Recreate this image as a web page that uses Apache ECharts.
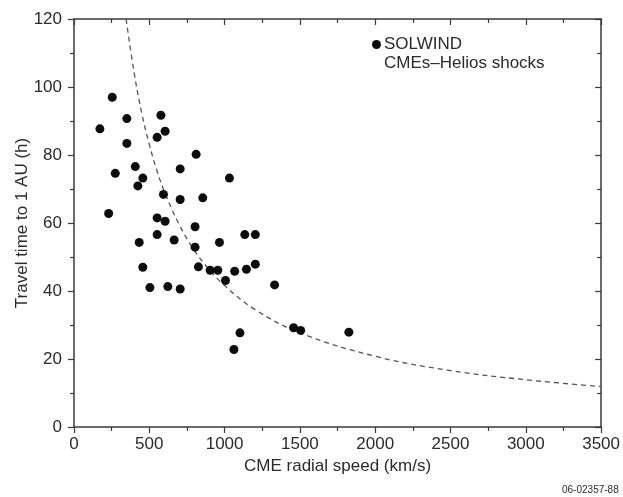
<!DOCTYPE html>
<html><head><meta charset="utf-8">
<script src="https://cdn.jsdelivr.net/npm/echarts@6/dist/echarts.min.js"></script>
<style>html,body{margin:0;padding:0;background:#fff}#c{width:623px;height:497px}</style>
</head><body><div id="c"></div>
<script>
// Observed CMEs (speed km/s, travel time h)
const speeds = [254,172,351,577,605,552,351,811,407,274,705,457,424,1032,594,705,855,230,552,605,804,552,1134,1204,665,433,966,804,457,826,904,955,1067,1145,1204,1006,504,623,705,1332,1102,1062,1458,1505,1825];
const times  = [97.0,87.7,90.7,91.7,87.0,85.2,83.4,80.2,76.6,74.6,75.9,73.2,70.9,73.2,68.4,66.9,67.4,62.8,61.5,60.5,58.9,56.6,56.6,56.6,55.0,54.3,54.3,52.9,47.0,47.1,46.1,46.1,45.8,46.4,47.9,43.1,41.0,41.3,40.6,41.8,27.7,22.8,29.2,28.4,27.9];
// Dashed curve
const curveSpeeds = [346,400,450,500,550,600,700,800,900,1000,1200,1500,2000,2500,3000,3500];
const curveTimes  = [120,104,92.3,83.1,75.5,69.3,59.4,51.9,46.2,41.6,34.6,27.7,20.8,16.6,13.9,11.9];
const xTicks = [0,500,1000,1500,2000,2500,3000,3500];
const yTicks = [0,20,40,60,80,100,120];

const pts = speeds.map((s,i)=>[s,times[i]]);
const curve = curveSpeeds.map((s,i)=>[s,curveTimes[i]]);
const font = '"Liberation Sans", Arial, sans-serif';
const axisCol = '#3a3a3a';
const txtCol = '#2b2b2b';
const chart = echarts.init(document.getElementById('c'));
const baseAxisLine = {show:true, onZero:false, lineStyle:{color:axisCol, width:1.5}};
const tick = (inside)=>({show:true, inside:inside, length:6, lineStyle:{color:axisCol, width:1.2}});
const minor = {show:true, splitNumber:2, length:4, lineStyle:{color:axisCol, width:1.2}};
chart.setOption({
  animation:false,
  grid:{left:74, right:21, top:19, bottom:70},
  legend:{show:true, left:367, top:31, icon:'circle', itemWidth:9, itemHeight:9, itemGap:4,
    data:['SOLWIND'], textStyle:{fontFamily:font, fontSize:17, color:txtCol, padding:[0,0,0,-2]}},
  xAxis:[{
    type:'value', min:xTicks[0], max:xTicks[xTicks.length-1], interval:500,
    name:'CME radial speed (km/s)', nameLocation:'middle', nameGap:31, nameMoveOverlap:false,
    nameTextStyle:{fontFamily:font, fontSize:17, color:txtCol},
    axisLine:baseAxisLine, splitLine:{show:false},
    axisTick:tick(false), minorTick:minor,
    axisLabel:{fontFamily:font, fontSize:17, color:txtCol, margin:9, formatter:v=>String(v)}
  },{
    type:'value', position:'top', min:0, max:3500, interval:500,
    axisLine:baseAxisLine, splitLine:{show:false},
    axisTick:tick(true), minorTick:minor,
    axisLabel:{show:false}
  }],
  yAxis:[{
    type:'value', min:yTicks[0], max:yTicks[yTicks.length-1], interval:20,
    name:'Travel time to 1 AU (h)', nameLocation:'middle', nameGap:43, nameMoveOverlap:false,
    nameTextStyle:{fontFamily:font, fontSize:17, color:txtCol},
    axisLine:baseAxisLine, splitLine:{show:false},
    axisTick:tick(false), minorTick:minor,
    axisLabel:{fontFamily:font, fontSize:17, color:txtCol, margin:12, formatter:v=>String(v)}
  },{
    type:'value', position:'right', min:0, max:120, interval:20,
    axisLine:baseAxisLine, splitLine:{show:false},
    axisTick:tick(true), minorTick:minor,
    axisLabel:{show:false}
  }],
  series:[{
    name:'curve', type:'line', data:curve, smooth:0.4, showSymbol:false, symbol:'none',
    lineStyle:{color:'#555', width:1.3, type:[5,4]}, z:1
  },{
    name:'SOLWIND', type:'scatter', data:pts, symbol:'circle', symbolSize:9,
    itemStyle:{color:'#0c0c0c', opacity:1}, z:3
  }],
  graphic:[
    {type:'text', left:384, top:55, style:{text:'CMEs–Helios shocks', font:'17px '+font, fill:txtCol}},
    {type:'text', left:562, top:485, style:{text:'06-02357-88', font:'10px '+font, fill:txtCol}}
  ]
});
</script></body></html>
